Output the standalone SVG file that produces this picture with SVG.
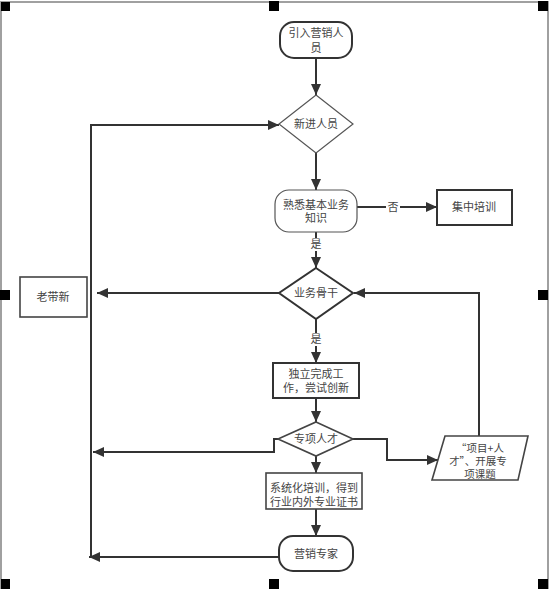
<svg xmlns="http://www.w3.org/2000/svg" width="550" height="589" viewBox="0 0 550 589">
<style>
text{font-family:"Noto Sans CJK SC","Liberation Sans",sans-serif;font-size:11px;fill:#444;text-anchor:middle}
.s{font-size:10.5px}
.b{fill:#fff;stroke:#333;stroke-width:2}
.t{fill:#fff;stroke:#555;stroke-width:1.2}
.m{fill:#fff;stroke:#444;stroke-width:1.6}
.c{fill:none;stroke:#333;stroke-width:2}
.h{fill:#000}
.f{stroke:#a0a0a0;stroke-width:2;fill:none}
</style>
<defs>
<marker id="a" markerUnits="userSpaceOnUse" markerWidth="12" markerHeight="10" refX="11" refY="5" orient="auto">
<path d="M0,0 L11,5 L0,10 Z" fill="#333"/>
</marker>
</defs>
<g id="frame">
<path class="f" d="M1,589 V2 H548 V589"/>
<rect class="h" x="1" y="2" width="9" height="9"/>
<rect class="h" x="269" y="1" width="10" height="10"/>
<rect class="h" x="538" y="1" width="10" height="10"/>
<rect class="h" x="0" y="290" width="10" height="10"/>
<rect class="h" x="538" y="290" width="10" height="10"/>
<rect class="h" x="1" y="579" width="9" height="10"/>
<rect class="h" x="269" y="579" width="10" height="10"/>
<rect class="h" x="538" y="579" width="10" height="10"/>
</g>
<g id="connectors">
<path class="c" d="M316,58 V95" marker-end="url(#a)"/>
<path class="c" d="M316,153 V190" marker-end="url(#a)"/>
<path class="c" d="M357,207 H437" marker-end="url(#a)"/>
<path class="c" d="M316,232 V268" marker-end="url(#a)"/>
<path class="c" d="M316,319 V363" marker-end="url(#a)"/>
<path class="c" d="M316,398 V422" marker-end="url(#a)"/>
<path class="c" d="M316,456 V473" marker-end="url(#a)"/>
<path class="c" d="M316,509 V536" marker-end="url(#a)"/>
<path class="c" d="M353,439 H387 V460 H438" marker-end="url(#a)"/>
<path class="c" d="M479,436 V293 H354" marker-end="url(#a)"/>
<path class="c" d="M279,293 H97" marker-end="url(#a)"/>
<path class="c" d="M278,439 H274 V452 H93" marker-end="url(#a)"/>
<path class="c" d="M279,557 H89" marker-end="url(#a)"/>
<path class="c" d="M91,557 V125 H279" marker-end="url(#a)"/>
<rect x="386" y="201" width="14" height="13" fill="#fff"/>
<text x="393" y="211">否</text>
<rect x="309" y="238" width="14" height="13" fill="#fff"/>
<text x="316" y="248">是</text>
<rect x="309" y="333" width="14" height="13" fill="#fff"/>
<text x="316" y="343">是</text>
</g>
<g id="n1">
<rect class="b" x="280" y="22" width="72" height="36" rx="14"/>
<text x="316" y="37">引入营销人</text>
<text x="316" y="52">员</text>
</g>
<g id="n2">
<polygon class="t" points="316,95 353,124 316,153 279,124"/>
<text x="316" y="128">新进人员</text>
</g>
<g id="n3">
<rect class="t" x="275" y="190" width="82" height="42" rx="14"/>
<text x="316" y="209">熟悉基本业务</text>
<text x="316" y="222">知识</text>
</g>
<g id="n4">
<rect class="b" x="437" y="190" width="75" height="35"/>
<text x="474" y="211">集中培训</text>
</g>
<g id="n5">
<polygon class="b" points="316,268 353,293 316,319 279,293"/>
<text x="316" y="297">业务骨干</text>
</g>
<g id="n6">
<rect class="b" x="273" y="363" width="86" height="35"/>
<text x="316" y="378">独立完成工</text>
<text x="316" y="392">作，尝试创新</text>
</g>
<g id="n7">
<polygon class="m" points="316,422 353,439 316,456 278,439"/>
<text x="316" y="443">专项人才</text>
</g>
<g id="n8">
<polygon class="m" points="445,436 528,436 518,480 432,480"/>
<text class="s" x="480" y="452">“项目+人</text>
<text class="s" x="478" y="465">才”、开展专</text>
<text class="s" x="480" y="478">项课题</text>
</g>
<g id="n9">
<rect class="m" x="266" y="473" width="96" height="36" stroke="#666"/>
<text x="314" y="492">系统化培训，得到</text>
<text x="314" y="506">行业内外专业证书</text>
</g>
<g id="n10">
<rect class="b" x="279" y="536" width="74" height="35" rx="14"/>
<text x="316" y="558">营销专家</text>
</g>
<g id="n11">
<rect class="m" x="20" y="277" width="67" height="40"/>
<text x="53" y="301">老带新</text>
</g>
</svg>
